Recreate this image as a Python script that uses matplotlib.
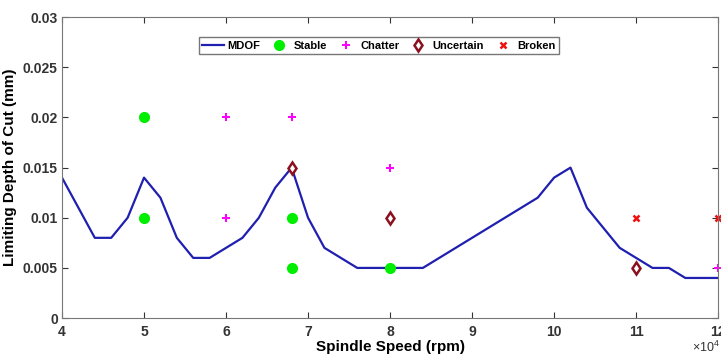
import matplotlib.pyplot as plt
from matplotlib.ticker import FuncFormatter, FixedLocator, FixedFormatter

plt.rcParams["font.family"] = ["Liberation Sans", "DejaVu Sans"]
plt.rcParams["font.weight"] = "bold"
plt.rcParams["mathtext.default"] = "regular"

# MDOF stability lobe
speed = [40000, 42000, 44000, 46000, 48000, 50000, 52000, 54000, 56000, 58000,
         60000, 62000, 64000, 66000, 68000, 70000, 72000, 74000, 76000, 78000,
         80000, 82000, 84000, 86000, 88000, 90000, 92000, 94000, 96000, 98000,
         100000, 102000, 104000, 106000, 108000, 110000, 112000, 114000, 116000,
         118000, 120000]
depth = [0.014, 0.011, 0.008, 0.008, 0.010, 0.014, 0.012, 0.008, 0.006, 0.006,
         0.007, 0.008, 0.010, 0.013, 0.015, 0.010, 0.007, 0.006, 0.005, 0.005,
         0.005, 0.005, 0.005, 0.006, 0.007, 0.008, 0.009, 0.010, 0.011, 0.012,
         0.014, 0.015, 0.011, 0.009, 0.007, 0.006, 0.005, 0.005, 0.004,
         0.004, 0.004]

stable_x = [50000, 50000, 68000, 68000, 80000]
stable_y = [0.020, 0.010, 0.010, 0.005, 0.005]
chatter_x = [60000, 60000, 68000, 80000, 120000]
chatter_y = [0.020, 0.010, 0.020, 0.015, 0.005]
uncertain_x = [68000, 80000, 110000]
uncertain_y = [0.015, 0.010, 0.005]
broken_x = [110000, 120000]
broken_y = [0.010, 0.010]

yticks = [0, 0.005, 0.01, 0.015, 0.02, 0.025, 0.03]
ytick_labels = ["0", "0.005", "0.01", "0.015", "0.02", "0.025", "0.03"]
xticks = [40000, 50000, 60000, 70000, 80000, 90000, 100000, 110000, 120000]

fig = plt.figure(figsize=(7.21, 3.57), dpi=100)
ax = fig.add_axes([0.086, 0.109, 0.91, 0.843])

ax.plot(speed, depth, color="#1f1fb0", linewidth=1.6, label="MDOF")
ax.plot(stable_x, stable_y, "o", color="#00ee00", markersize=7, label="Stable", clip_on=False)
ax.plot(chatter_x, chatter_y, "P", color="#ff00ff", markersize=5.5, markeredgewidth=0,
        label="Chatter", clip_on=False)
ax.plot(uncertain_x, uncertain_y, "d", color="#8b1020", markerfacecolor="white",
        markersize=6.5, markeredgewidth=1.8, label="Uncertain", clip_on=False)
ax.plot(broken_x, broken_y, "x", color="#ee1111", markersize=5, markeredgewidth=1.8,
        label="Broken", clip_on=False)

ax.set_xlim(40000, 120000)
ax.set_ylim(0, 0.03)
ax.yaxis.set_major_locator(FixedLocator(yticks))
ax.yaxis.set_major_formatter(FixedFormatter(ytick_labels))
ax.xaxis.set_major_locator(FixedLocator(xticks))
ax.xaxis.set_major_formatter(FuncFormatter(lambda v, p: f"{v / 1e4:g}"))
fig.text(0.998, 0.005, r"$\times$10$^{4}$", ha="right", va="bottom",
         fontsize=9, fontweight="normal", color="#333333")

ax.tick_params(direction="in", top=True, right=True, length=4, labelsize=10,
               colors="#333333", pad=3)
ax.tick_params(axis="x", pad=5)
for s in ax.spines.values():
    s.set_color("#777777")

ax.set_xlabel("Spindle Speed (rpm)", fontsize=11, fontweight="bold", labelpad=1)
ax.set_ylabel("Limiting Depth of Cut (mm)", fontsize=11, fontweight="bold")

leg = ax.legend(loc="upper center", bbox_to_anchor=(0.483, 0.94), ncol=5,
                fontsize=8, frameon=True, fancybox=False, edgecolor="#555555",
                handlelength=2.0, columnspacing=0.7, borderpad=0.3, handletextpad=0.3,
                borderaxespad=0.2)
leg.get_frame().set_linewidth(1.0)

plt.savefig("out.png", dpi=100)
plt.close()
